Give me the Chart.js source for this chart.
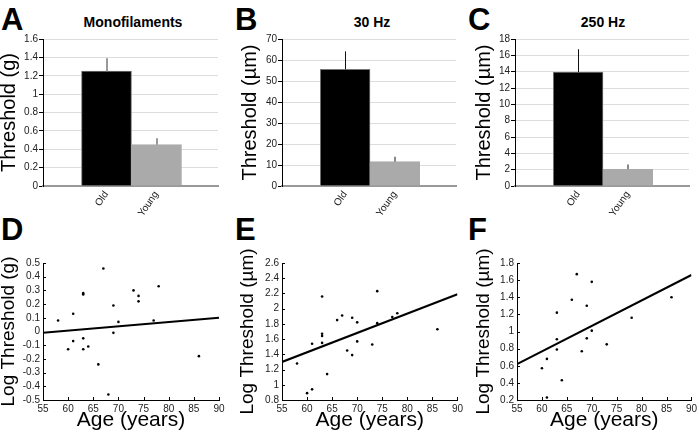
<!DOCTYPE html>
<html>
<head>
<meta charset="utf-8">
<script src="https://cdn.jsdelivr.net/npm/chart.js@4"></script>
<style>
  body{margin:0;background:#fff;width:700px;height:434px;overflow:hidden;position:relative;font-family:"Liberation Sans",Arial,sans-serif;}
  canvas{position:absolute;}
  .lt{position:absolute;font-weight:bold;font-size:31px;line-height:31px;color:#000;}
  .ttl{position:absolute;font-weight:bold;font-size:14px;line-height:14px;color:#000;transform:translateX(-50%);white-space:nowrap;}
</style>
</head>
<body>
<div class="lt" style="left:1px;top:4px">A</div>
<div class="lt" style="left:235px;top:4px">B</div>
<div class="lt" style="left:468px;top:4px">C</div>
<div class="lt" style="left:1px;top:214px">D</div>
<div class="lt" style="left:235px;top:214px">E</div>
<div class="lt" style="left:468px;top:214px">F</div>
<div class="ttl" style="left:133px;top:15px">Monofilaments</div>
<div class="ttl" style="left:372px;top:15px">30 Hz</div>
<div class="ttl" style="left:603px;top:15px">250 Hz</div>

<canvas id="cA" width="233" height="222" style="left:0;top:0"></canvas>
<canvas id="cB" width="233" height="222" style="left:233px;top:0"></canvas>
<canvas id="cC" width="234" height="222" style="left:466px;top:0"></canvas>
<canvas id="cD" width="233" height="219" style="left:0;top:215px"></canvas>
<canvas id="cE" width="233" height="219" style="left:233px;top:215px"></canvas>
<canvas id="cF" width="234" height="219" style="left:466px;top:215px"></canvas>

<script>
// ─── DATA ───────────────────────────────────────────────────────────
const barLabels = ['Old','Young'];
const monoMean  = [1.25, 0.45];
const monoErr   = [1.39, 0.52];
const hz30Mean  = [55.6, 11.6];
const hz30Err   = [64.1, 13.9];
const hz250Mean = [13.95, 2.05];
const hz250Err  = [16.75, 2.63];

const ageMono = [58,60,61,61,63,63,63,63,64,66,67,68,69,69,70,73,74,74,77,78,86];
const logMono = [0.08,-0.13,0.13,-0.07,0.28,0.27,-0.05,-0.13,-0.11,-0.24,0.46,-0.46,0.19,-0.01,0.07,0.30,0.26,0.22,0.08,0.33,-0.18];
const age30   = [58,60,61,61,63,63,63,63,64,66,67,68,69,69,70,70,73,74,74,77,78,86];
const log30   = [1.28,0.89,0.94,1.54,2.16,1.67,1.64,1.55,1.14,1.85,1.91,1.45,1.88,1.39,1.82,1.57,1.53,2.23,1.81,1.89,1.94,1.73];
const age250  = [60,61,61,63,63,63,64,66,67,68,69,69,70,70,73,78,86];
const log250  = [0.57,0.68,0.23,1.22,0.91,0.79,0.43,1.37,1.67,0.77,1.30,0.92,1.58,1.01,0.85,1.16,1.40];

const fitAge  = [55, 90];
const fitMono = [-0.01, 0.10];
const fit30   = [1.30, 2.19];
const fit250  = [0.62, 1.66];

// ─── HELPERS ────────────────────────────────────────────────────────
const FONT = '"Liberation Sans", Arial, sans-serif';
const fmt1 = v => String(+(+v).toFixed(1));

function errPlugin(mean, top, colors, widths){
  return {
    id:'errbars',
    afterDatasetsDraw(chart){
      const {ctx, scales:{x,y}} = chart;
      ctx.save();
      mean.forEach((m,i)=>{
        const px = Math.round(x.getPixelForValue(i+1)) + (widths[i]%2 ? 0.5 : 0);
        ctx.strokeStyle = colors[i]; ctx.lineWidth = widths[i];
        ctx.beginPath();
        ctx.moveTo(px, y.getPixelForValue(m));
        ctx.lineTo(px, y.getPixelForValue(top[i]));
        ctx.stroke();
      });
      ctx.restore();
    }
  };
}

const inTicks = {
  id:'inTicks',
  afterDraw(chart){
    const {ctx, scales:{x,y}, chartArea:a} = chart;
    ctx.save();
    ctx.strokeStyle = '#000'; ctx.lineWidth = 1;
    ctx.beginPath();
    x.ticks.forEach(t=>{ const px=Math.round(x.getPixelForValue(t.value))+0.5; ctx.moveTo(px,a.bottom); ctx.lineTo(px,a.bottom-3); });
    y.ticks.forEach(t=>{ const py=Math.round(y.getPixelForValue(t.value))+0.5; ctx.moveTo(a.left,py); ctx.lineTo(a.left+3,py); });
    ctx.stroke();
    ctx.restore();
  }
};

function barChart(id, mean, top, errColors, errWidths, yMax, yStep, yTitle, titlePad, yWidth, padRight, canvasW){
  const plotW = canvasW - yWidth - padRight;
  new Chart(document.getElementById(id), {
    type:'bar',
    data:{datasets:[{
      data: mean.map((v,i)=>({x:i+1, y:v})),
      backgroundColor:['#000','#aaaaaa'],
      borderColor:['#777','#aaaaaa'],
      borderWidth:1,
      borderSkipped:'bottom',
      barThickness: plotW/3.5
    }]},
    options:{
      responsive:false, animation:false,
      layout:{padding:{top:39, right:padRight, left:0, bottom:0}},
      plugins:{legend:{display:false}, tooltip:{enabled:false}},
      scales:{
        x:{type:'linear', min:-0.27, max:3.23, offset:false, z:1,
           afterBuildTicks:s=>{ s.ticks=[{value:1},{value:2}]; },
           afterFit:s=>{ s.height=36; },
           grid:{display:false, drawTicks:false, offset:false},
           border:{color:'#999', width:2},
           ticks:{callback:v=>barLabels[v-1], autoSkip:false, minRotation:55, maxRotation:55, padding:3,
                  font:{family:FONT, size:10}, color:'#222'}},
        y:{min:0, max:yMax,
           afterFit:s=>{ s.width=yWidth; },
           grid:{color:'#dddddd', tickColor:'#000', tickLength:4},
           border:{color:'#000', width:1},
           ticks:{stepSize:yStep, autoSkip:false, padding:1, callback:fmt1, font:{family:FONT, size:10}, color:'#222'},
           title:{display:true, text:yTitle, color:'#000', font:{family:FONT, size:20}, padding:{top:titlePad, bottom:0}}}
      }
    },
    plugins:[errPlugin(mean, top, errColors, errWidths)]
  });
}

function scatterChart(id, ages, vals, fitVals, yMin, yMax, yTitle, titlePad, yWidth, padRight){
  new Chart(document.getElementById(id), {
    type:'scatter',
    data:{datasets:[
      {data: ages.map((a,i)=>({x:a, y:vals[i]})), pointRadius:1.3, pointBorderWidth:0, backgroundColor:'#000'},
      {type:'line', data: fitAge.map((a,i)=>({x:a, y:fitVals[i]})), borderColor:'#000', borderWidth:2, pointRadius:0, fill:false}
    ]},
    options:{
      responsive:false, animation:false,
      layout:{padding:{top:48, right:padRight, left:0, bottom:0}},
      plugins:{legend:{display:false}, tooltip:{enabled:false}},
      scales:{
        x:{type:'linear', min:55, max:90,
           afterFit:s=>{ s.height=34; },
           grid:{display:false, drawTicks:false},
           border:{color:'#000', width:1},
           ticks:{stepSize:5, autoSkip:false, padding:3, font:{family:FONT, size:10}, color:'#222'},
           title:{display:true, text:'Age (years)', color:'#000', font:{family:FONT, size:21}, padding:{top:0, bottom:1}}},
        y:{min:yMin, max:yMax,
           afterFit:s=>{ s.width=yWidth; },
           grid:{display:false, drawTicks:false},
           border:{color:'#000', width:1},
           ticks:{stepSize: (yMax-yMin) > 1.5 ? 0.2 : 0.1, autoSkip:false, padding:3, callback:fmt1, font:{family:FONT, size:10}, color:'#222'},
           title:{display:true, text:yTitle, color:'#000', font:{family:FONT, size:19}, padding:{top:titlePad, bottom:0}}}
      }
    },
    plugins:[inTicks]
  });
}

// ─── RENDER ─────────────────────────────────────────────────────────
barChart('cA', monoMean,  monoErr,  ['#999','#999'], [2,2], 1.6, 0.2, 'Threshold (g)',  -2.5, 43, 15, 233);
barChart('cB', hz30Mean,  hz30Err,  ['#111','#888'], [1,2], 70,  10,  'Threshold (µm)',  5.7, 49, 10, 233);
barChart('cC', hz250Mean, hz250Err, ['#111','#888'], [1,2], 18,  2,   'Threshold (µm)',  6,   49, 11, 234);

scatterChart('cD', ageMono, logMono, fitMono, -0.5, 0.5, 'Log Threshold (g)',  -2.2, 43, 14);
scatterChart('cE', age30,   log30,   fit30,    0.8, 2.6, 'Log Threshold (µm)',  3.1, 49, 7);
scatterChart('cF', age250,  log250,  fit250,   0.2, 1.8, 'Log Threshold (µm)',  6.1, 51, 6);
</script>
</body>
</html>
